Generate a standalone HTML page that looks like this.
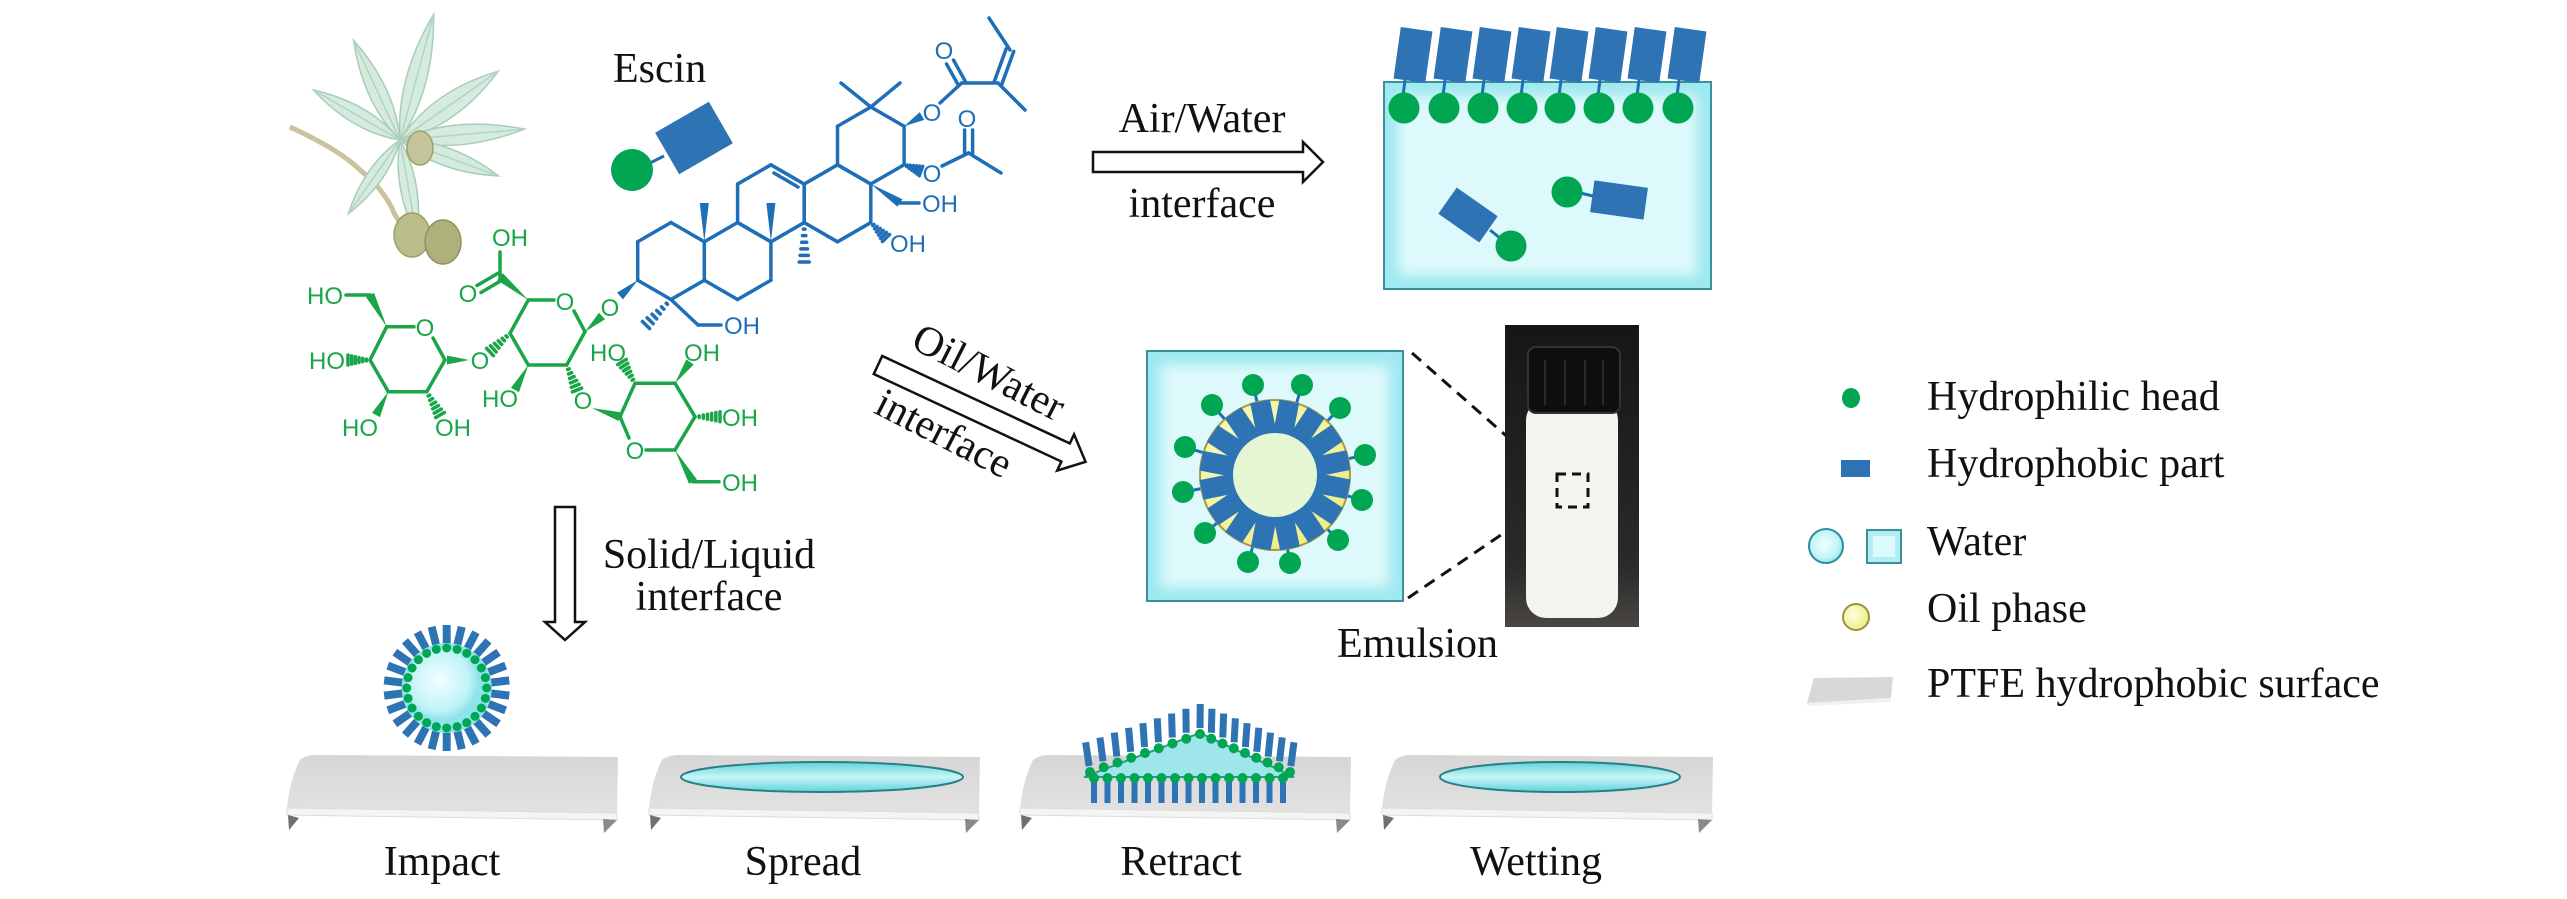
<!DOCTYPE html>
<html><head><meta charset="utf-8"><style>
html,body{margin:0;padding:0;background:#fff;}
svg{display:block;}
.t{font-family:"Liberation Serif","Times New Roman",serif;font-size:42px;fill:#111;}
.l{font-family:"Liberation Sans",Arial,sans-serif;font-size:24px;}
.g{fill:#19a548;} .b{fill:#1f6fb8;}
</style></head><body>
<svg id="s" xmlns="http://www.w3.org/2000/svg" width="2567" height="899" viewBox="0 0 2567 899">
<defs>
<radialGradient id="wat" cx="0.45" cy="0.45" r="0.6"><stop offset="0" stop-color="#f4feff"/><stop offset="0.7" stop-color="#bff3f7"/><stop offset="1" stop-color="#7fdde6"/></radialGradient>
<linearGradient id="lens" x1="0" y1="0" x2="0" y2="1"><stop offset="0" stop-color="#5fd3dc"/><stop offset="0.5" stop-color="#c6f6f8"/><stop offset="1" stop-color="#5fd3dc"/></linearGradient>
<linearGradient id="slab" x1="0" y1="0" x2="0" y2="1"><stop offset="0" stop-color="#d6d6d6"/><stop offset="1" stop-color="#e2e2e2"/></linearGradient>
<linearGradient id="photo" x1="0" y1="0" x2="0" y2="1"><stop offset="0" stop-color="#161616"/><stop offset="0.8" stop-color="#2a2a2a"/><stop offset="1" stop-color="#4a4642"/></linearGradient>
<radialGradient id="oil" cx="0.4" cy="0.4" r="0.6"><stop offset="0" stop-color="#ffffe0"/><stop offset="1" stop-color="#eeee88"/></radialGradient>
</defs>
<g id="plant"></g>
<g id="mol"></g>

<!-- labels -->
<text class="t" x="613" y="82">Escin</text>
<text class="t" x="1202" y="132" text-anchor="middle">Air/Water</text>
<text class="t" x="1202" y="217" text-anchor="middle">interface</text>
<text class="t" transform="translate(989,372) rotate(27)" y="14" text-anchor="middle">Oil/Water</text>
<text class="t" transform="translate(944,433) rotate(27)" y="14" text-anchor="middle">interface</text>
<text class="t" x="709" y="568" text-anchor="middle">Solid/Liquid</text>
<text class="t" x="709" y="610" text-anchor="middle">interface</text>
<text class="t" x="1337" y="657">Emulsion</text>
<text class="t" x="442" y="875" text-anchor="middle">Impact</text>
<text class="t" x="803" y="875" text-anchor="middle">Spread</text>
<text class="t" x="1181" y="875" text-anchor="middle">Retract</text>
<text class="t" x="1536" y="875" text-anchor="middle">Wetting</text>
<text class="t" x="1927" y="410">Hydrophilic head</text>
<text class="t" x="1927" y="477">Hydrophobic part</text>
<text class="t" x="1927" y="555">Water</text>
<text class="t" x="1927" y="622">Oil phase</text>
<text class="t" x="1927" y="697">PTFE hydrophobic surface</text>

<!-- molecule atom labels -->
<g class="l b">
<text x="724" y="334">OH</text>
<text x="922" y="212">OH</text>
<text x="890" y="252">OH</text>
<text x="932" y="121" text-anchor="middle">O</text>
<text x="944" y="59" text-anchor="middle">O</text>
<text x="932" y="182" text-anchor="middle">O</text>
<text x="967" y="127" text-anchor="middle">O</text>
</g>
<g class="l g">
<text x="610" y="316" text-anchor="middle">O</text>
<text x="565" y="310" text-anchor="middle">O</text>
<text x="510" y="246" text-anchor="middle">OH</text>
<text x="468" y="302" text-anchor="middle">O</text>
<text x="480" y="369" text-anchor="middle">O</text>
<text x="500" y="407" text-anchor="middle">HO</text>
<text x="583" y="409" text-anchor="middle">O</text>
<text x="425" y="336" text-anchor="middle">O</text>
<text x="343" y="304" text-anchor="end">HO</text>
<text x="345" y="369" text-anchor="end">HO</text>
<text x="360" y="436" text-anchor="middle">HO</text>
<text x="453" y="436" text-anchor="middle">OH</text>
<text x="635" y="459" text-anchor="middle">O</text>
<text x="608" y="361" text-anchor="middle">HO</text>
<text x="702" y="361" text-anchor="middle">OH</text>
<text x="722" y="426">OH</text>
<text x="722" y="491">OH</text>
</g>

<!-- arrows -->
<polygon points="1093,152 1303,152 1303,142 1323,162 1303,182 1303,172 1093,172" fill="#fff" stroke="#111" stroke-width="2.5"/>
<polygon points="555,507 575,507 575,622 585,622 565,640 545,622 555,622" fill="#fff" stroke="#111" stroke-width="2.5"/>
<polygon transform="translate(878,365) rotate(25)" points="0,-10 207,-10 207,-20 229,0 207,20 207,10 0,10" fill="#fff" stroke="#111" stroke-width="2.5"/>

<!-- air/water box -->
<rect x="1384" y="82" width="327" height="207" fill="#9fe9f0" stroke="#3d8f99" stroke-width="2"/>
<rect x="1398" y="96" width="299" height="179" fill="#def9fb" style="filter:blur(6px)"/>
<g id="aw"></g>

<!-- emulsion box -->
<rect x="1147" y="351" width="256" height="250" fill="#9fe9f0" stroke="#3d8f99" stroke-width="2"/>
<rect x="1161" y="365" width="228" height="222" fill="#def9fb" style="filter:blur(6px)"/>
<g id="em"></g>
<line x1="1412" y1="353" x2="1553" y2="477" stroke="#111" stroke-width="3" stroke-dasharray="12,8"/>
<line x1="1408" y1="598" x2="1557" y2="497" stroke="#111" stroke-width="3" stroke-dasharray="12,8"/>

<!-- photo -->
<rect x="1505" y="325" width="134" height="302" fill="url(#photo)"/>
<rect x="1526" y="400" width="92" height="218" rx="20" fill="#f3f3ef"/>
<rect x="1528" y="347" width="92" height="66" rx="8" fill="#0e0e0e" stroke="#333" stroke-width="2"/>
<g stroke="#2a2a2a" stroke-width="2"><line x1="1545" y1="360" x2="1545" y2="405"/><line x1="1565" y1="360" x2="1565" y2="405"/><line x1="1585" y1="360" x2="1585" y2="405"/><line x1="1603" y1="360" x2="1603" y2="405"/></g>
<rect x="1557" y="474" width="31" height="33" fill="none" stroke="#111" stroke-width="3" stroke-dasharray="9,6"/>

<!-- slabs -->
<g id="slabs"></g>
<g id="drops"></g>

<!-- legend -->
<ellipse cx="1851" cy="398" rx="9" ry="10" fill="#00a651"/>
<rect x="1841" y="460" width="29" height="17" fill="#2e74b5"/>
<circle cx="1826" cy="546" r="17" fill="url(#wat)" stroke="#2a8f9a" stroke-width="2"/>
<rect x="1867" y="530" width="34" height="33" fill="#aeeef4" stroke="#3d8f99" stroke-width="2"/>
<rect x="1873" y="536" width="22" height="21" fill="#dcfafc"/>
<circle cx="1856" cy="617" r="13" fill="url(#oil)" stroke="#9a9440" stroke-width="2"/>
<polygon points="1814,678 1893,677 1891,698 1807,703" fill="#d8d8d8"/>
<polygon points="1807,703 1891,698 1891,702 1807,706" fill="#f0f0f0"/>
</svg>
<script>
const NS='http://www.w3.org/2000/svg';
function el(t,a,p){const e=document.createElementNS(NS,t);for(const k in a)e.setAttribute(k,a[k]);(p||document.getElementById('s')).appendChild(e);return e;}
const mol=document.getElementById('mol');
const B='#1f6fb8',G='#19a548',W=3.5;
function ln(x1,y1,x2,y2,c){el('line',{x1,y1,x2,y2,stroke:c,'stroke-width':W,'stroke-linecap':'round'},mol);}
function wedge(x1,y1,x2,y2,c,w){w=w||9;const dx=x2-x1,dy=y2-y1,L=Math.hypot(dx,dy),nx=-dy/L*w/2,ny=dx/L*w/2;
 el('polygon',{points:`${x1},${y1} ${x2+nx},${y2+ny} ${x2-nx},${y2-ny}`,fill:c},mol);}
function hash(x1,y1,x2,y2,c,w){w=w||10;const dx=x2-x1,dy=y2-y1,L=Math.hypot(dx,dy),ux=-dy/L,uy=dx/L;const n=6;
 for(let i=1;i<=n;i++){const t=i/n,cx=x1+dx*t,cy=y1+dy*t,h=w/2*t;ln(cx-ux*h,cy-uy*h,cx+ux*h,cy+uy*h,c);}}
function dbl(x1,y1,x2,y2,c,o){o=o||4;const dx=x2-x1,dy=y2-y1,L=Math.hypot(dx,dy),nx=-dy/L*o,ny=dx/L*o;ln(x1+nx,y1+ny,x2+nx,y2+ny,c);ln(x1-nx,y1-ny,x2-nx,y2-ny,c);}
const s=38.5,h=33.3;
function hex(cx,cy){const v=[[cx,cy-s],[cx+h,cy-s/2],[cx+h,cy+s/2],[cx,cy+s],[cx-h,cy+s/2],[cx-h,cy-s/2]];
 for(let i=0;i<6;i++){const a=v[i],b=v[(i+1)%6];ln(a[0],a[1],b[0],b[1],B);}return v;}
hex(671,261);hex(737.6,261);const C=hex(770.9,203.3);hex(837.5,203.3);hex(870.8,145.5);
ln(774,173,798,187,B);
// blue substituents
wedge(637.7,280.25,620,296,B);
hash(671,299.5,646,325,B);ln(671,299.5,698,325,B);ln(698,325,721,325,B);
wedge(704.3,241.75,704.3,203,B);wedge(770.9,241.75,770.9,203,B);
hash(804.2,222.5,804.2,262,B);
wedge(870.8,184,900,203,B);ln(900,203,919,203,B);
hash(870.8,222.5,886,238,B);
ln(870.8,107,841,83,B);ln(870.8,107,900,83,B);
wedge(904.1,126.25,922,116,B);ln(940,103,961.7,83,B);dbl(961.7,83,950,62,B);ln(961.7,83,998,83,B);
dbl(998,83,1010,50,B);ln(1010,50,989,18,B);ln(998,83,1025,110,B);
hash(904.1,164.75,921,171,B);ln(942,166,968.6,153,B);dbl(968.6,153,968.6,130,B);ln(968.6,153,1001,173,B);
// green
ln(528.3,300,554,300,G);ln(574,311,585,331.7,G);ln(585,331.7,566.7,365,G);ln(566.7,365,528.3,365,G);ln(528.3,365,510,333.3,G);ln(510,333.3,528.3,300,G);
wedge(528.3,300,500,276.7,G);ln(500,276.7,500,252,G);dbl(500,276.7,479,289,G);
wedge(585,331.7,602,316,G);
hash(510,333.3,490,352,G);wedge(469,360,447,360,G);
wedge(528.3,365,515,390,G);
hash(566.7,365,577,390,G);wedge(592,408,620,416.7,G);
ln(386.7,326.7,414,326.7,G);ln(433,338,445,360,G);ln(445,360,426.7,391.7,G);ln(426.7,391.7,388.3,391.7,G);ln(388.3,391.7,370,360,G);ln(370,360,386.7,326.7,G);
wedge(386.7,326.7,370,295,G);ln(370,295,346,295,G);
hash(370,360,348,360,G);wedge(388.3,391.7,376,415,G);hash(426.7,391.7,440,415,G);
ln(620,416.7,629,438,G);ln(646,450,675,450,G);ln(675,450,695,416.7,G);ln(695,416.7,675,383.3,G);ln(675,383.3,635,383.3,G);ln(635,383.3,620,416.7,G);
hash(635,383.3,622,362,G);wedge(675,383.3,690,362,G);hash(695,416.7,720,416.7,G);wedge(675,450,693,481.7,G);ln(693,481.7,719,481.7,G);
// hydrophile icon
const hb='#2e74b5',gd='#00a651';
function amph(cx,cy,w,hgt,ang,dx,dy,r,p){const g=el('g',{transform:`translate(${cx},${cy}) rotate(${ang})`},p);
 el('path',{d:`M${dx*0.55},${dy*0.55} q4,-2 ${dx*0.45-3},${dy*0.45}`,stroke:'#1f6fb8','stroke-width':3,fill:'none'},g);
 el('rect',{x:-w/2,y:-hgt/2,width:w,height:hgt,fill:hb},g);
 el('circle',{cx:dx,cy:dy,r:r,fill:gd},g);}
el('rect',{x:-31,y:-24,width:62,height:48,fill:hb,transform:'translate(694,138) rotate(-30)'});
el('line',{x1:648,y1:164,x2:664,y2:156,stroke:B,'stroke-width':3});
el('circle',{cx:632,cy:170,r:21,fill:gd});
// air-water
const aw=document.getElementById('aw');
const xs=[1413,1453,1492,1531,1569,1608,1647,1687];
xs.forEach(x=>{el('path',{d:`M${x-9},93 q-3,4 -1,${0}`,stroke:B,'stroke-width':3,fill:'none'},aw);
 el('line',{x1:x-8,y1:80,x2:x-10,y2:96,stroke:B,'stroke-width':3},aw);
 el('rect',{x:-16,y:-26,width:32,height:52,fill:hb,transform:`translate(${x},${55}) rotate(8)`},aw);
 el('circle',{cx:x-9,cy:108,r:15.5,fill:gd},aw);});
el('rect',{x:-25,y:-16,width:50,height:32,fill:hb,transform:'translate(1468,215) rotate(35)'},aw);
el('line',{x1:1490,y1:230,x2:1500,y2:238,stroke:B,'stroke-width':3},aw);
el('circle',{cx:1511,cy:246,r:15.5,fill:gd},aw);
el('rect',{x:-27,y:-16,width:54,height:32,fill:hb,transform:'translate(1619,200) rotate(8)'},aw);
el('line',{x1:1580,y1:193,x2:1593,y2:196,stroke:B,'stroke-width':3},aw);
el('circle',{cx:1567,cy:192,r:15.5,fill:gd},aw);
// emulsion
const em=document.getElementById('em');const ex=1275,ey=475;
[[1253,385],[1302,385],[1212,405],[1340,408],[1185,447],[1365,455],[1183,492],[1362,500],[1205,533],[1338,540],[1248,562],[1290,563]].forEach(p=>{
 const dx=p[0]-ex,dy=p[1]-ey,L=Math.hypot(dx,dy);el('line',{x1:ex+dx/L*73,y1:ey+dy/L*73,x2:p[0]-dx/L*9,y2:p[1]-dy/L*9,stroke:B,'stroke-width':3},em);
 el('circle',{cx:p[0],cy:p[1],r:11,fill:gd},em);});
el('circle',{cx:ex,cy:ey,r:75,fill:'url(#oil)',stroke:'#a89a40','stroke-width':2},em);
for(let i=0;i<16;i++){const a=i*22.5+11;el('rect',{x:-10,y:-75,width:20,height:34,fill:hb,transform:`translate(${ex},${ey}) rotate(${a})`},em);}
el('circle',{cx:ex,cy:ey,r:42,fill:'#e4f6d4'},em);
// slabs
const sl=document.getElementById('slabs');
for(let k=0;k<4;k++){const d=[0,362,733,1095][k];const g=el('g',{transform:`translate(${d},0)`},sl);
 el('path',{d:'M300,760 Q306,755 316,755 L618,757 L617,813 L287,808 Q290,780 300,760 Z',fill:'url(#slab)'},g);
 el('polygon',{points:'287,808 617,813 617,820 287,815',fill:'#f4f4f4',stroke:'#dcdcdc','stroke-width':1},g);
 el('polygon',{points:'288,815 299,818 289,830',fill:'#707070'},g);
 el('polygon',{points:'603,819 617,820 604,833',fill:'#8a8a8a'},g);}
const dr=document.getElementById('drops');
el('ellipse',{cx:822,cy:777,rx:141,ry:15,fill:'url(#lens)',stroke:'#2a7f86','stroke-width':2},dr);
el('ellipse',{cx:1560,cy:777,rx:120,ry:15,fill:'url(#lens)',stroke:'#2a7f86','stroke-width':2},dr);
// impact droplet
const dx0=446.7,dy0=688;
for(let i=0;i<26;i++){el('rect',{x:-4,y:-63,width:8,height:19,fill:hb,transform:`translate(${dx0},${dy0}) rotate(${i*360/26})`},dr);}
el('circle',{cx:dx0,cy:dy0,r:45,fill:'#8fe3ea'},dr);
el('circle',{cx:dx0-4,cy:dy0-4,r:36,fill:'url(#wat)'},dr);
for(let i=0;i<24;i++){const a=i*Math.PI*2/24;el('circle',{cx:dx0+Math.cos(a)*40,cy:dy0+Math.sin(a)*40,r:4.5,fill:gd},dr);}
// retract
const pts=[];
for(let i=0;i<=8;i++){const t=i/8;pts.push([1090+t*110,772-t*38]);}
for(let i=1;i<=8;i++){const t=i/8;pts.push([1200+t*90,734+t*38]);}
pts.forEach(p=>el('rect',{x:p[0]-3.5,y:p[1]-30,width:7,height:24,fill:hb,transform:`rotate(${(p[0]-1195)*0.08},${p[0]},${p[1]})`},dr));
for(let i=0;i<15;i++){const x=1094+i*13.5;el('rect',{x:x-3,y:781,width:6,height:22,fill:hb},dr);}
el('polygon',{points:'1084,777 1200,733 1294,777',fill:'#9fe6ec',stroke:'#2a9a8a','stroke-width':2},dr);
pts.forEach(p=>el('circle',{cx:p[0],cy:p[1],r:5,fill:gd},dr));
for(let i=0;i<15;i++){el('circle',{cx:1094+i*13.5,cy:778,r:5,fill:gd},dr);}
// plant
const pl=document.getElementById('plant');
function leaf(x,y,len,wid,ang){const g=el('g',{transform:`translate(${x},${y}) rotate(${ang})`},pl);
 el('path',{d:`M0,0 Q${len*0.45},${-wid} ${len},0 Q${len*0.45},${wid} 0,0 Z`,fill:'#d4ebdd',stroke:'#a8cdb8','stroke-width':1.5},g);
 el('line',{x1:0,y1:0,x2:len,y2:0,stroke:'#b3d4c2','stroke-width':1.5},g);}
el('path',{d:'M290,127 Q340,150 360,170 Q385,190 395,215 L405,230',stroke:'#c9c3a0','stroke-width':5,fill:'none'},pl);
const cx0=400,cy0=140;
leaf(cx0,cy0,130,20,-75);leaf(cx0,cy0,110,18,-115);leaf(cx0,cy0,100,17,-150);leaf(cx0,cy0,120,22,-35);
leaf(cx0,cy0,125,20,-5);leaf(cx0,cy0,105,18,20);leaf(cx0,cy0,90,15,125);leaf(cx0,cy0,100,16,80);
el('ellipse',{cx:412,cy:235,rx:18,ry:22,fill:'#b9bd8a',stroke:'#9c9f6a','stroke-width':1.5},pl);
el('ellipse',{cx:443,cy:242,rx:18,ry:22,fill:'#aeb27a',stroke:'#8f925e','stroke-width':1.5},pl);
el('ellipse',{cx:420,cy:148,rx:13,ry:17,fill:'#c4c49a',stroke:'#9c9f6a','stroke-width':1.5},pl);
</script>
</body></html>
